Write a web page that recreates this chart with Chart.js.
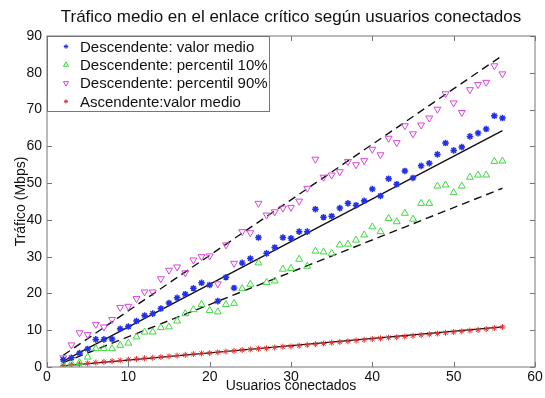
<!DOCTYPE html>
<html>
<head>
<meta charset="utf-8">
<script src="https://cdn.jsdelivr.net/npm/chart.js@4.4.0/dist/chart.umd.min.js"></script>
<style>
  html, body { margin: 0; padding: 0; background: #fff; }
</style>
</head>
<body>
<canvas id="traffic" width="545" height="398"></canvas>
<script>
// usuarios conectados (eje x)
const users = [2, 3, 4, 5, 6, 7, 8, 9, 10, 11, 12, 13, 14, 15, 16, 17, 18, 19, 20, 21, 22, 23, 24, 25, 26, 27, 28, 29,
  30, 31, 32, 33, 34, 35, 36, 37, 38, 39, 40, 41, 42, 43, 44, 45, 46, 47, 48, 49, 50, 51, 52, 53, 54, 55, 56];

// tráfico medio descendente (Mbps)
const downMean = [2.0, 2.5, 3.8, 4.9, 7.5, 7.5, 7.6, 10.4, 11.0, 12.5, 14.0, 14.5, 15.9, 17.4, 18.8, 19.8, 21.4, 22.9,
  22.3, 17.9, 24.4, 21.5, 28.3, 29.5, 35.2, 30.9, 32.5, 35.2, 35.0, 36.8, 36.8, 42.9, 40.7, 41.0, 43.2, 44.5, 44.0,
  45.2, 48.4, 46.5, 51.2, 49.7, 53.3, 51.4, 54.7, 55.4, 57.8, 60.9, 58.9, 59.8, 62.7, 63.6, 64.7, 68.3, 67.7];

// percentil 10% descendente
const downP10 = [0.5, 1.0, 1.2, 2.7, 5.0, 5.0, 5.0, 5.9, 6.5, 8.2, 9.5, 9.5, 10.7, 10.9, 12.5, 14.5, 15.6, 17.0,
  15.4, 15.0, 17.0, 17.3, 21.3, 22.5, 28.3, 23.0, 23.4, 26.6, 26.8, 29.3, 27.4, 31.5, 31.3, 30.9, 33.2, 33.4, 34.5,
  35.9, 38.1, 36.8, 40.4, 39.5, 41.8, 40.2, 44.5, 44.5, 49.2, 49.5, 47.4, 49.2, 51.6, 52.2, 52.2, 55.9, 56.0];

// percentil 90% descendente
const downP90 = [2.5, 6.0, 9.3, 8.8, 11.6, 10.9, 12.9, 16.2, 16.5, 18.6, 20.4, 20.4, 24.0, 26.3, 27.2, 25.6, 29.1,
  30.0, 30.2, 22.6, 33.2, 28.2, 36.8, 36.5, 44.5, 41.3, 42.2, 43.2, 43.4, 45.1, 48.6, 56.5, 51.6, 52.2, 53.1, 55.9,
  55.0, 56.1, 59.2, 57.7, 62.2, 61.0, 65.6, 63.4, 65.8, 67.7, 70.1, 74.3, 71.8, 69.2, 75.4, 76.8, 77.4, 81.9, 79.7];

// tráfico medio ascendente
const upMean = [0.4, 0.6, 0.8, 1.0, 1.2, 1.4, 1.6, 1.8, 2.0, 2.2, 2.4, 2.5, 2.7, 2.9, 3.1, 3.3, 3.5, 3.7, 3.8, 4.0,
  4.2, 4.4, 4.6, 4.8, 5.0, 5.1, 5.3, 5.5, 5.6, 5.8, 6.0, 6.2, 6.4, 6.6, 6.8, 7.0, 7.2, 7.4, 7.6, 7.8, 8.0, 8.1, 8.3,
  8.5, 8.7, 8.9, 9.1, 9.3, 9.5, 9.7, 9.9, 10.1, 10.3, 10.6, 10.9];

// rectas de ajuste (extremos)
const fitX = [2, 56];
const fitMean = [1.6, 64.3];
const fitP10 = [1.2, 48.6];
const fitP90 = [3.2, 84.7];
const fitUp = [0.3, 10.9];

const xTicks = [0, 10, 20, 30, 40, 50, 60];
const yTicks = [0, 10, 20, 30, 40, 50, 60, 70, 80, 90];

const FONT = '"Liberation Sans", Arial, sans-serif';
const TITLE = 'Tráfico medio en el enlace crítico según usuarios conectados';
const pts = (xs, ys) => xs.map((x, i) => ({ x: x, y: ys[i] }));

function fitLine(ys, dashed) {
  return {
    type: 'line',
    data: pts(fitX, ys),
    borderColor: '#111',
    borderWidth: 1.4,
    borderDash: dashed ? [8, 5] : [],
    pointRadius: 0,
    showLine: true,
    fill: false,
    inLegend: false
  };
}

function markers(label, ys, color, style, rotation, radius, lw) {
  return {
    type: 'scatter',
    label: label,
    data: pts(users, ys),
    borderColor: color,
    backgroundColor: 'rgba(0,0,0,0)',
    pointStyle: style,
    rotation: rotation,
    pointRadius: radius,
    pointBorderWidth: lw,
    inLegend: true
  };
}

// caja de ejes estilo MATLAB con marcas hacia dentro, y titulo centrado sobre los ejes
const boxAxes = {
  id: 'boxAxes',
  afterDatasetsDraw(chart) {
    const { ctx, chartArea: a, scales } = chart;
    ctx.save();
    ctx.strokeStyle = '#777';
    ctx.lineWidth = 1;
    ctx.strokeRect(a.left, a.top, a.right - a.left, a.bottom - a.top);
    ctx.beginPath();
    xTicks.forEach(v => {
      const px = Math.round(scales.x.getPixelForValue(v)) + 0.5;
      ctx.moveTo(px, a.bottom); ctx.lineTo(px, a.bottom - 5);
      ctx.moveTo(px, a.top); ctx.lineTo(px, a.top + 5);
    });
    yTicks.forEach(v => {
      const py = Math.round(scales.y.getPixelForValue(v)) + 0.5;
      ctx.moveTo(a.left, py); ctx.lineTo(a.left + 5, py);
      ctx.moveTo(a.right, py); ctx.lineTo(a.right - 5, py);
    });
    ctx.stroke();
    ctx.fillStyle = '#111';
    ctx.font = '17px ' + FONT;
    ctx.textAlign = 'center';
    ctx.textBaseline = 'middle';
    ctx.fillText(TITLE, (a.left + a.right) / 2, 17);
    ctx.restore();
  }
};

// leyenda dentro del area, arriba a la izquierda
const boxLegend = {
  id: 'boxLegend',
  afterDraw(chart) {
    const { ctx, chartArea: a } = chart;
    const items = chart.data.datasets.filter(d => d.inLegend);
    const w = 222, h = 75;
    ctx.save();
    ctx.fillStyle = '#fff';
    ctx.fillRect(a.left, a.top, w, h);
    ctx.strokeStyle = '#777';
    ctx.lineWidth = 1;
    ctx.strokeRect(a.left + 0.5, a.top + 0.5, w, h);
    ctx.font = '15px ' + FONT;
    ctx.textBaseline = 'middle';
    items.forEach((d, i) => {
      const y = a.top + 10.5 + i * 18.3;
      ctx.strokeStyle = d.borderColor;
      ctx.fillStyle = 'rgba(0,0,0,0)';
      Chart.helpers.drawPoint(ctx, {
        pointStyle: d.pointStyle, rotation: d.rotation, radius: d.pointRadius - 1, borderWidth: 1
      }, a.left + 19, y);
      ctx.fillStyle = '#111';
      ctx.fillText(d.label, a.left + 33, y + 1);
    });
    ctx.restore();
  }
};

new Chart(document.getElementById('traffic'), {
  data: {
    datasets: [
      markers('Descendente: valor medio', downMean, '#2230e8', 'star', 0, 3.3, 1.5),
      markers('Descendente: percentil 10%', downP10, '#3ed83e', 'triangle', 0, 4, 1),
      markers('Descendente: percentil 90%', downP90, '#d846d8', 'triangle', 180, 4, 1),
      markers('Ascendente:valor medio', upMean, '#e83030', 'star', 0, 3, 1),
      fitLine(fitMean, false),
      fitLine(fitP10, true),
      fitLine(fitP90, true),
      fitLine(fitUp, false)
    ]
  },
  options: {
    responsive: false,
    animation: false,
    layout: { padding: { top: 36, right: 10, left: 0, bottom: 0 } },
    plugins: {
      legend: { display: false },
      tooltip: { enabled: false },
      title: { display: false }
    },
    scales: {
      x: {
        type: 'linear',
        min: 0, max: 60,
        afterBuildTicks: s => { s.ticks = xTicks.map(v => ({ value: v })); },
        afterFit: s => { s.height = 31; },
        grid: { display: false, drawTicks: false },
        border: { display: false },
        ticks: { color: '#111', padding: 2, font: { size: 14, family: FONT } },
        title: {
          display: true, text: 'Usuarios conectados', color: '#111',
          font: { size: 14, family: FONT },
          padding: { top: 0, bottom: 3 }
        }
      },
      y: {
        type: 'linear',
        min: 0, max: 90,
        afterBuildTicks: s => { s.ticks = yTicks.map(v => ({ value: v })); },
        afterFit: s => { s.width = 47; },
        grid: { display: false, drawTicks: false },
        border: { display: false },
        ticks: { color: '#111', padding: 5, font: { size: 14, family: FONT } },
        title: {
          display: true, text: 'Tráfico (Mbps)', color: '#111',
          font: { size: 14, family: FONT },
          padding: { top: 13, bottom: 0 }
        }
      }
    }
  },
  plugins: [boxAxes, boxLegend]
});
</script>
</body>
</html>
